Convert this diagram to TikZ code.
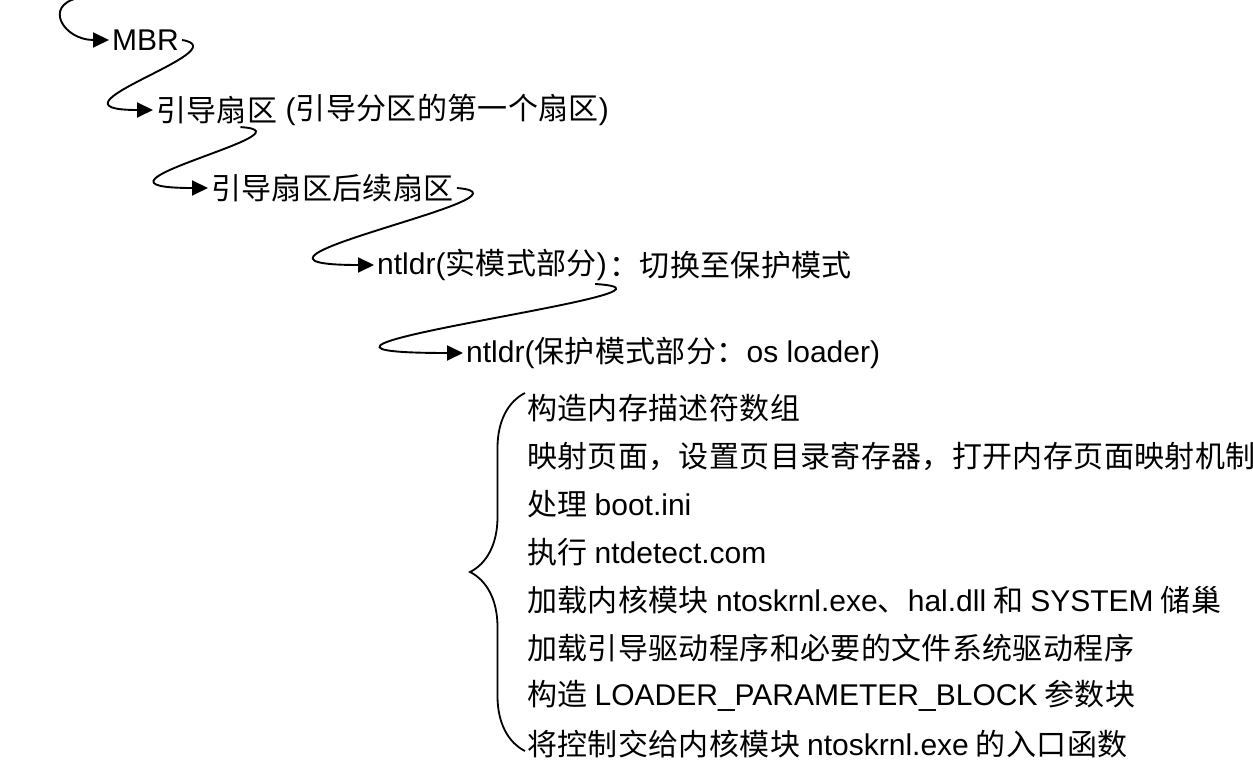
\documentclass[tikz,border=0pt]{standalone}
\usepackage{fontspec}
\setmainfont{Noto Sans CJK SC}[LetterSpace=1.2]
\newfontfamily\engfont{Liberation Sans}[Scale=1.0]
\newcommand\eng[1]{{\engfont #1}}
\usetikzlibrary{positioning,arrows.meta,decorations.pathreplacing}

\begin{document}
\begin{tikzpicture}[
    x=1pt, y=1pt,
    % boot chain stages and the steps of the os loader
    stage/.style={anchor=west, inner sep=3pt, font=\fontsize{30}{34}\selectfont},
    loadstep/.style={anchor=west, inner sep=0pt, font=\fontsize{30}{34}\selectfont},
    flow/.style={line width=1.9pt, -{Triangle[length=16pt,width=15pt]}},
    curly/.style={line width=1.8pt, decorate, decoration={brace, amplitude=55pt}}
]
\useasboundingbox (0,0) rectangle (1253,-767);

% Boot chain
\coordinate (entry) at (78,2);
\node[stage] (mbr) at (109,-40) {\eng{MBR}};
\node[stage] (boot) at (153,-110) {引导扇区};
\node[stage, right=2pt of boot] (bootnote) {\eng{(}引导分区的第一个扇区\eng{)}};
\node[stage] (tail) at (208,-188) {引导扇区后续扇区};
\node[stage] (real) at (374,-265) {\eng{ntldr(}实模式部分\eng{)}};
\node[stage, right=-4pt of real] (realnote) {：切换至保护模式};
\node[stage] (prot) at (463,-353) {\eng{ntldr(}保护模式部分：\eng{os loader)}};

% S-shaped hand-offs
\draw[flow] (entry) .. controls +(-35,-8) and +(-45,0) .. (mbr.west);
\draw[flow] (mbr.east) .. controls +(60,-10) and +(-120,0) .. (boot.west);
\draw[flow] ([xshift=-40pt]boot.south east) .. controls +(80,-5) and +(-150,0) .. (tail.west);
\draw[flow] (tail.east) .. controls +(95,-8) and +(-185,0) .. (real.west);
\draw[flow] ([xshift=-15pt]real.south east) .. controls +(130,-8) and +(-265,0) .. (prot.west);

% os loader steps
\foreach \n/\txt in {1/构造内存描述符数组,
                     2/映射页面，设置页目录寄存器，打开内存页面映射机制,
                     3/处理 \eng{boot.ini},
                     4/执行 \eng{ntdetect.com},
                     5/加载内核模块 \eng{ntoskrnl.exe}、\eng{hal.dll} 和 \eng{SYSTEM} 储巢,
                     6/加载引导驱动程序和必要的文件系统驱动程序,
                     7/构造 \eng{LOADER\_PARAMETER\_BLOCK} 参数块,
                     8/将控制交给内核模块 \eng{ntoskrnl.exe} 的入口函数}
  \node[loadstep] (s\n) at (527,-360-48*\n) {\txt};

\draw[curly] ([xshift=-2pt,yshift=-7pt]s8.west) -- ([xshift=-2pt,yshift=15pt]s1.west);

\end{tikzpicture}
\end{document}
